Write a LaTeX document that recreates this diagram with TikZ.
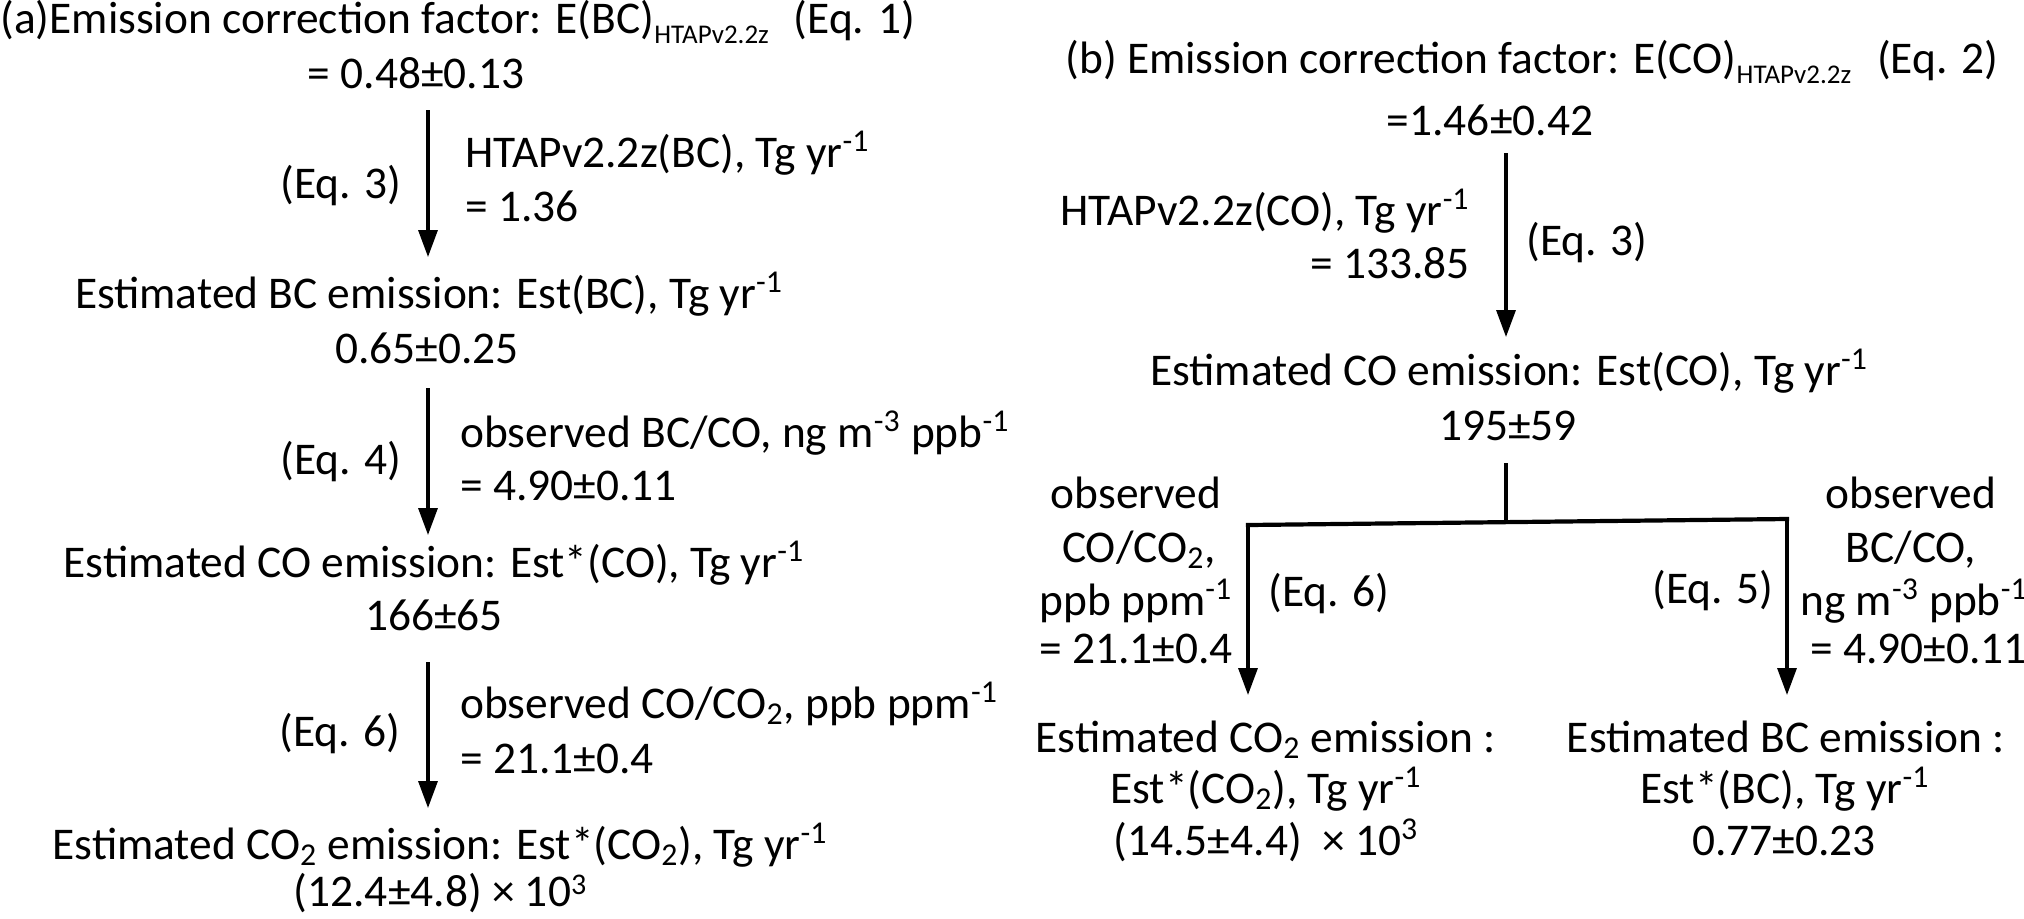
\documentclass[tikz,border=0pt]{standalone}
\usepackage{fontspec}
\setmainfont{Carlito}
\usetikzlibrary{arrows.meta}
\newcommand\ssub[1]{\textsubscript{#1}}
\newcommand\ssup[1]{\textsuperscript{#1}}
\newcommand\lowsup[1]{\raisebox{6pt}{\fontsize{15}{15}\selectfont #1}}
\newcommand\htapsub{\raisebox{-5pt}{\fontsize{13.5}{13.5}\selectfont HTAPv2.2z}}
\begin{document}
\begin{tikzpicture}[x=0.5pt,y=-0.5pt,
  every node/.style={inner sep=0pt, font=\fontsize{22.7}{27}\selectfont},
  arr/.style={line width=1.65pt, -{Triangle[length=13.5pt,width=9.5pt]}},
  stem/.style={line width=1.65pt},
  bar/.style={line width=2.1pt, line cap=rect}]
\fill[white] (0,0) rectangle (2024,918);
\useasboundingbox (0,0) rectangle (2024,918);

% ---------------- panel (a) ----------------
\node[anchor=base west] (ta) at (0,33) {(a)Emission correction factor: E(BC)\htapsub\hspace{12.5pt}(Eq. 1)};
\node[anchor=base] (va1) at (416,88) {= 0.48±0.13};
\node[anchor=base east] (eqa3) at (402,198) {(Eq. 3)};
\node[anchor=base west] (la1a) at (465,167) {HTAPv2.2z(BC), Tg yr\ssup{-1}};
\node[anchor=base west] (la1b) at (465,221) {= 1.36};
\node[anchor=base] (ea1) at (429,308) {Estimated BC emission: Est(BC), Tg yr\ssup{-1}};
\node[anchor=base] (va2) at (427,363) {0.65±0.25};
\node[anchor=base east] (eqa4) at (402,474) {(Eq. 4)};
\node[anchor=base west] (la2a) at (460,447) {observed BC/CO, ng m\ssup{-3} ppb\ssup{-1}};
\node[anchor=base west] (la2b) at (460,500) {= 4.90±0.11};
\node[anchor=base] (ea2) at (434,577) {Estimated CO emission: Est*(CO), Tg yr\ssup{-1}};
\node[anchor=base] (va3) at (434,630) {166±65};
\node[anchor=base east] (eqa6) at (401,746) {(Eq. 6)};
\node[anchor=base west] (la3a) at (460,718) {observed CO/CO\ssub{2}, ppb ppm\ssup{-1}};
\node[anchor=base west] (la3b) at (460,773) {= 21.1±0.4};
\node[anchor=base] (ea3) at (440,859) {Estimated CO\ssub{2} emission: Est*(CO\ssub{2}), Tg yr\ssup{-1}};
\node[anchor=base] (va4) at (440,906) {(12.4±4.8) × 10\lowsup{3}};

\coordinate (a1s) at (428,110);
\coordinate (a1e) at (428,257);
\coordinate (a2s) at (428,388);
\coordinate (a2e) at (428,535);
\coordinate (a3s) at (428,662);
\coordinate (a3e) at (428,808);
\draw[arr] (a1s) -- (a1e);
\draw[arr] (a2s) -- (a2e);
\draw[arr] (a3s) -- (a3e);

% ---------------- panel (b) ----------------
\node[anchor=base west] (tb) at (1065,73) {(b) Emission correction factor: E(CO)\htapsub\hspace{13pt}(Eq. 2)};
\node[anchor=base] (vb1) at (1490,135) {=1.46±0.42};
\node[anchor=base east] (lb1a) at (1470,225) {HTAPv2.2z(CO), Tg yr\ssup{-1}};
\node[anchor=base east] (lb1b) at (1470,278) {= 133.85};
\node[anchor=base west] (eqb3) at (1526,255) {(Eq. 3)};
\node[anchor=base] (eb1) at (1509,385) {Estimated CO emission: Est(CO), Tg yr\ssup{-1}};
\node[anchor=base] (vb2) at (1508,440) {195±59};

\node[anchor=base] (lb2a) at (1136,508) {observed};
\node[anchor=base] (lb2b) at (1139,562) {CO/CO\ssub{2},};
\node[anchor=base] (lb2c) at (1136,615) {ppb ppm\ssup{-1}};
\node[anchor=base] (lb2d) at (1136,663) {= 21.1±0.4};
\node[anchor=base west] (eqb6) at (1268,606) {(Eq. 6)};
\node[anchor=base east] (eqb5) at (1774,603) {(Eq. 5)};
\node[anchor=base] (rb2a) at (1911,508) {observed};
\node[anchor=base] (rb2b) at (1911,562) {BC/CO,};
\node[anchor=base west] (rb2c) at (1800,615) {ng m\ssup{-3} ppb\ssup{-1}};
\node[anchor=base west] (rb2d) at (1810,663) {= 4.90±0.11};

\node[anchor=base] (eb2a) at (1266,752) {Estimated CO\ssub{2} emission :};
\node[anchor=base] (eb2b) at (1266,803) {Est*(CO\ssub{2}), Tg yr\ssup{-1}};
\node[anchor=base] (eb2c) at (1266,855) {(14.5±4.4)\ \ × 10\ssup{3}};
\node[anchor=base] (eb3a) at (1786,752) {Estimated BC emission :};
\node[anchor=base] (eb3b) at (1785,803) {Est*(BC), Tg yr\ssup{-1}};
\node[anchor=base] (eb3c) at (1784,855) {0.77±0.23};

\coordinate (b1s) at (1506,153);
\coordinate (b1e) at (1506,337);
\coordinate (stemtop) at (1506,463);
\coordinate (stembot) at (1506,522);
\coordinate (hl) at (1248,525);
\coordinate (hr) at (1787,519);
\coordinate (bl) at (1248,695);
\coordinate (br) at (1787,695);
\draw[arr] (b1s) -- (b1e);
\draw[stem] (stemtop) -- (stembot);
\draw[bar] (hl) -- (hr);
\draw[arr] (hl) -- (bl);
\draw[arr] (hr) -- (br);
\end{tikzpicture}
\end{document}
